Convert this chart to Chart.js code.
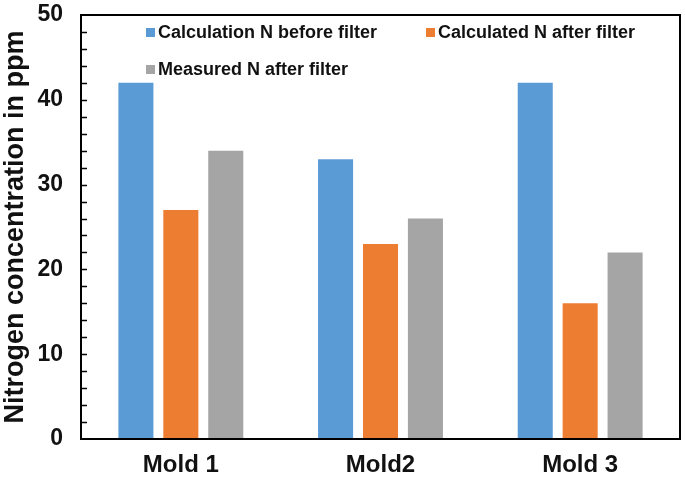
<!DOCTYPE html>
<html>
<head>
<meta charset="utf-8">
<script src="https://cdn.jsdelivr.net/npm/chart.js@4.4.1/dist/chart.umd.min.js"></script>
<style>
html,body{margin:0;padding:0;background:#fff;}
#wrap{width:685px;height:477px;}
</style>
</head>
<body>
<div id="wrap"><canvas id="c" width="685" height="477"></canvas></div>
<script>
const categories = ["Mold 1", "Mold2", "Mold 3"];
const seriesNames = ["Calculation N before filter", "Calculated N after filter", "Measured N after filter"];
const calcBefore = [42, 33, 42];
const calcAfter = [27, 23, 16];
const measuredAfter = [34, 26, 22];
const colors = ["#5B9BD5", "#ED7D31", "#A5A5A5"];
const yTitle = "Nitrogen concentration in ppm";

const FONT = "'Liberation Sans', Arial, sans-serif";

const framePlugin = {
  id: 'frame',
  afterDatasetsDraw(chart) {
    const {ctx, chartArea: a, scales: {y}} = chart;
    ctx.save();
    ctx.strokeStyle = '#000';
    ctx.lineWidth = 1.5;
    y.ticks.forEach(t => {
      if (t.value <= 0 || t.value >= 50) return;
      const py = Math.round(y.getPixelForValue(t.value)) + 0.5;
      ctx.beginPath();
      ctx.moveTo(a.left, py);
      ctx.lineTo(a.left + 6, py);
      ctx.stroke();
    });
    ctx.lineWidth = 2;
    ctx.strokeRect(a.left, a.top, a.right - a.left, a.bottom - a.top);
    ctx.restore();
  }
};

const legendPlugin = {
  id: 'inlegend',
  afterDraw(chart) {
    const {ctx} = chart;
    const pos = [[146, 32], [426, 32], [146, 69]];
    ctx.save();
    ctx.font = "bold 18px " + FONT;
    ctx.textBaseline = 'middle';
    chart.data.datasets.forEach((ds, i) => {
      const [x, yy] = pos[i];
      ctx.fillStyle = ds.backgroundColor;
      ctx.fillRect(x, yy - 4, 9, 9);
      ctx.fillStyle = '#111';
      ctx.fillText(ds.label, x + 12, yy + 1);
    });
    ctx.restore();
  }
};

new Chart(document.getElementById('c'), {
  type: 'bar',
  data: {
    labels: categories,
    datasets: [
      {label: seriesNames[0], data: calcBefore, backgroundColor: colors[0]},
      {label: seriesNames[1], data: calcAfter, backgroundColor: colors[1]},
      {label: seriesNames[2], data: measuredAfter, backgroundColor: colors[2]}
    ]
  },
  options: {
    responsive: false,
    animation: false,
    devicePixelRatio: 1,
    layout: {padding: {top: 15, right: 5, left: 0, bottom: 0}},
    datasets: {bar: {categoryPercentage: 0.675, barPercentage: 0.78}},
    plugins: {legend: {display: false}, tooltip: {enabled: false}},
    scales: {
      x: {
        grid: {display: false, drawTicks: false},
        border: {display: false},
        ticks: {color: '#111', font: {family: FONT, size: 24, weight: 'bold'}, padding: 12},
        afterFit(s) { s.height = 38; s.paddingLeft = 0; s.paddingRight = 0; }
      },
      y: {
        min: 0, max: 50,
        grid: {display: false, drawTicks: false},
        border: {display: false},
        ticks: {
          stepSize: 2,
          autoSkip: false,
          color: '#111',
          font: {family: FONT, size: 23, weight: 'bold'},
          padding: 18,
          callback: v => (v % 10 === 0 ? String(v) : '')
        },
        title: {display: true, text: yTitle, color: '#111', font: {family: FONT, size: 27, weight: 'bold'}, padding: {top: -1, bottom: 0}},
        afterFit(s) { s.width = 81; s.paddingTop = 0; s.paddingBottom = 0; }
      }
    }
  },
  plugins: [framePlugin, legendPlugin]
});
</script>
</body>
</html>
